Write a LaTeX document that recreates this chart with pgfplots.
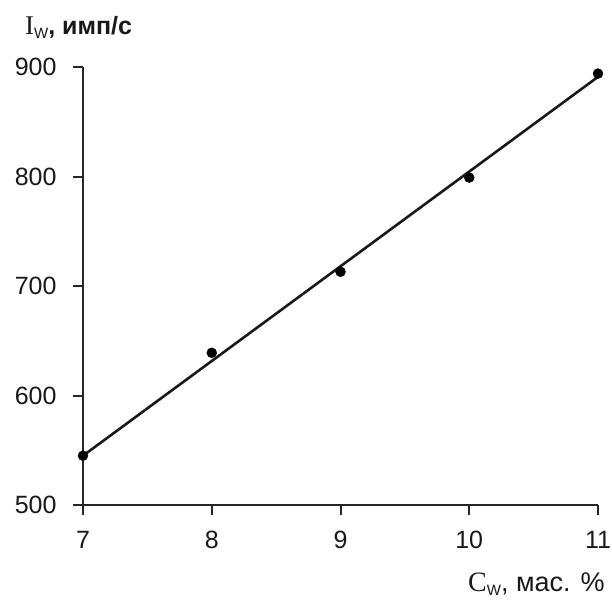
\documentclass[border=0pt]{standalone}
\usepackage{fontspec}
\setmainfont{Liberation Sans}
\newfontfamily\seriffont{Liberation Serif}
\usepackage{pgfplots}
\pgfplotsset{compat=1.18}
\begin{document}
\begin{tikzpicture}
\useasboundingbox (-83pt,-97pt) rectangle (529pt,505pt);
\begin{axis}[
  scale only axis,
  width=515pt, height=438pt,
  xmin=7, xmax=11, ymin=500, ymax=900,
  axis lines*=left,
  axis line style={line width=2pt, black!85},
  xtick={7,8,9,10,11}, ytick={500,600,700,800,900},
  tick style={line width=2pt, black!85},
  tick align=outside,
  major tick length=10pt,
  ticklabel style={font=\fontsize{25}{28}\selectfont, text=black!90},
  /pgf/number format/assume math mode=true,
  xticklabel style={yshift=-13pt},
  yticklabel style={xshift=-13pt},
  clip=false,
]
\addplot[black!90, line width=2.6pt] coordinates {(7,545) (11,891)};
\addplot[only marks, mark=*, mark size=5pt, black] coordinates {
  (7,545) (8,639) (9,713) (10,799) (11,894)};
\end{axis}
\node[anchor=base west, text=black!90, inner sep=0pt] at (-58pt,470pt)
  {{\seriffont\fontsize{27}{28}\selectfont I}\raisebox{-4pt}{\fontsize{15}{16}\selectfont W}\fontsize{25}{28}\selectfont\textbf{, имп/с}};
\node[anchor=base west, text=black!90, inner sep=0pt] at (385pt,-86pt)
  {{\seriffont\fontsize{28}{30}\selectfont C}\raisebox{-4pt}{\fontsize{15}{16}\selectfont W}\fontsize{27}{30}\selectfont, мас. \%};
\end{tikzpicture}
\end{document}
